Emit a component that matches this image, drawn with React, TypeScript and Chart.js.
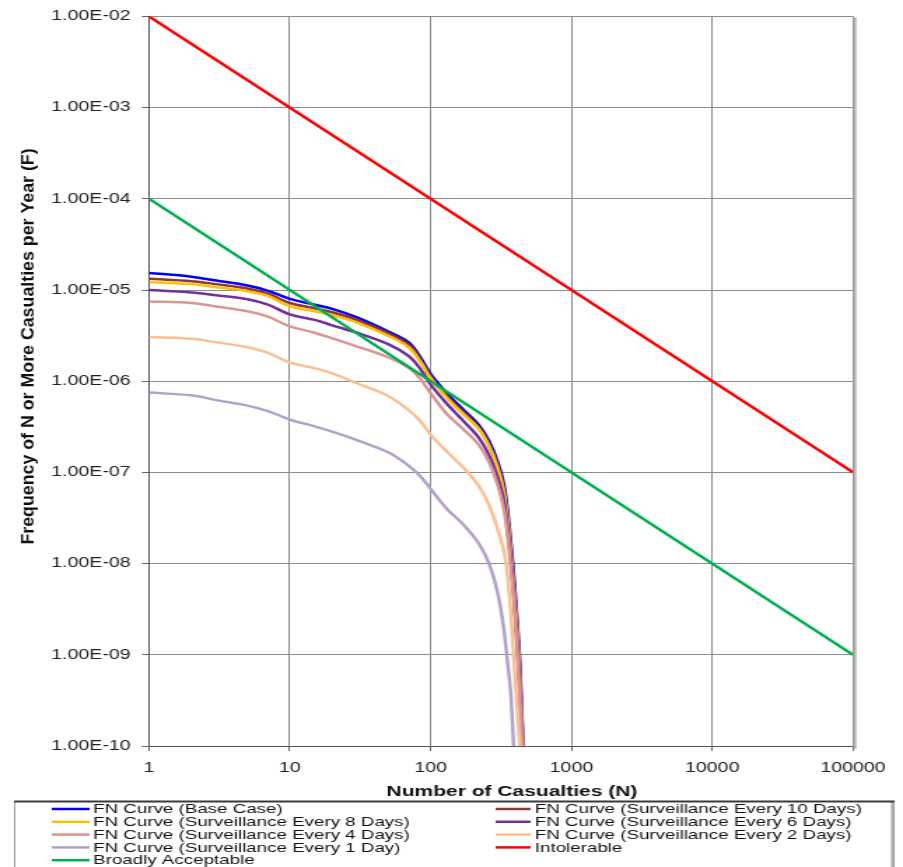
import React, { useEffect, useRef } from 'react';
import { Chart, registerables } from 'chart.js';

Chart.register(...registerables);

// Number of casualties at which each FN curve is sampled
const casualties = [1, 2, 3, 5, 7, 10, 15, 20, 30, 50, 70, 85, 100, 130, 170, 220, 260, 300, 330, 350, 370, 390, 410, 430, 450, 470];

// Frequency of N or more casualties per year for each case
const baseCase = [1.54e-5, 1.40e-5, 1.27e-5, 1.12e-5, 9.8e-6, 8.0e-6, 6.9e-6, 6.2e-6, 5.0e-6, 3.5e-6, 2.65e-6, 1.8e-6, 1.2e-6, 7.4e-7, 4.9e-7, 3.3e-7, 2.2e-7, 1.29e-7, 7.6e-8, 4.1e-8, 1.82e-8, 7.4e-9, 2.6e-9, 8.3e-10, 1.41e-10, 3.2e-11];
const every10Days = [1.33e-5, 1.25e-5, 1.16e-5, 1.04e-5, 9.1e-6, 7.2e-6, 6.3e-6, 5.7e-6, 4.7e-6, 3.35e-6, 2.5e-6, 1.7e-6, 1.12e-6, 6.9e-7, 4.6e-7, 3.1e-7, 2.0e-7, 1.15e-7, 6.5e-8, 3.4e-8, 1.48e-8, 5.8e-9, 2.1e-9, 6.0e-10, 1.17e-10, 2.5e-11];
const every8Days = [1.22e-5, 1.16e-5, 1.07e-5, 9.7e-6, 8.6e-6, 6.6e-6, 5.85e-6, 5.3e-6, 4.4e-6, 3.15e-6, 2.35e-6, 1.62e-6, 1.08e-6, 6.6e-7, 4.4e-7, 3.0e-7, 1.95e-7, 1.12e-7, 6.3e-8, 3.3e-8, 1.41e-8, 5.5e-9, 2.0e-9, 5.6e-10, 1.12e-10, 2.4e-11];
const every6Days = [1.0e-5, 9.4e-6, 8.75e-6, 7.9e-6, 6.9e-6, 5.4e-6, 4.7e-6, 4.1e-6, 3.4e-6, 2.55e-6, 1.88e-6, 1.35e-6, 9.2e-7, 5.7e-7, 3.7e-7, 2.4e-7, 1.55e-7, 8.6e-8, 5.0e-8, 2.6e-8, 1.15e-8, 4.5e-9, 1.45e-9, 4.1e-10, 9.1e-11, null];
const every4Days = [7.5e-6, 7.2e-6, 6.6e-6, 5.85e-6, 5.1e-6, 4.0e-6, 3.4e-6, 2.95e-6, 2.4e-6, 1.83e-6, 1.4e-6, 1.05e-6, 7.4e-7, 4.4e-7, 3.0e-7, 2.0e-7, 1.3e-7, 7.2e-8, 4.1e-8, 2.2e-8, 9.6e-9, 4.0e-9, 1.29e-9, 3.6e-10, 8.0e-11, null];
const every2Days = [3.06e-6, 2.92e-6, 2.67e-6, 2.36e-6, 2.05e-6, 1.6e-6, 1.39e-6, 1.22e-6, 9.5e-7, 6.9e-7, 4.8e-7, 3.6e-7, 2.6e-7, 1.7e-7, 1.14e-7, 7.1e-8, 4.4e-8, 2.35e-8, 1.41e-8, 7.9e-9, 3.1e-9, 8.7e-10, 2.8e-10, 1.02e-10, 4.0e-11, null];
const every1Day = [7.5e-7, 7.0e-7, 6.2e-7, 5.4e-7, 4.7e-7, 3.8e-7, 3.2e-7, 2.8e-7, 2.26e-7, 1.66e-7, 1.18e-7, 9.0e-8, 6.6e-8, 4.0e-8, 2.7e-8, 1.66e-8, 1.0e-8, 4.7e-9, 2.0e-9, 8.9e-10, 4.0e-10, 8.9e-11, null, null, null, null];

// Societal risk criterion lines
const criterionN = [1, 100000];
const intolerable = [1e-2, 1e-7];
const broadlyAcceptable = [1e-4, 1e-9];

// Axis ticks
const xTickValues = [1, 10, 100, 1000, 10000, 100000];
const xTickLabels = ['1', '10', '100', '1000', '10000', '100000'];
const yTickValues = [1e-10, 1e-9, 1e-8, 1e-7, 1e-6, 1e-5, 1e-4, 1e-3, 1e-2];
const yTickLabels = ['1.00E-10', '1.00E-09', '1.00E-08', '1.00E-07', '1.00E-06', '1.00E-05', '1.00E-04', '1.00E-03', '1.00E-02'];

const xTitle = 'Number of Casualties (N)';
const yTitle = 'Frequency of N or More Casualties per Year (F)';

const seriesLabels = [
  'FN Curve (Base Case)',
  'FN Curve (Surveillance Every 10 Days)',
  'FN Curve (Surveillance Every 8 Days)',
  'FN Curve (Surveillance Every 6 Days)',
  'FN Curve (Surveillance Every 4 Days)',
  'FN Curve (Surveillance Every 2 Days)',
  'FN Curve (Surveillance Every 1 Day)',
  'Intolerable',
  'Broadly Acceptable',
];

const seriesColors = ['#0000FF', '#943634', '#FFC000', '#7030A0', '#D99694', '#FAC090', '#B3A2C7', '#FF0000', '#00B050'];

const FONT = "'Liberation Sans', Arial, Helvetica, sans-serif";

// The drawing is laid out on a narrower bitmap and widened on screen.
const BITMAP_W = 645;
const BITMAP_H = 867;
const SCREEN_W = 903;
const WIDEN = SCREEN_W / BITMAP_W;

const toPoints = (xs: number[], ys: (number | null)[]) => xs.map((x, i) => ({ x, y: ys[i] }));

const fnSeries = [baseCase, every10Days, every8Days, every6Days, every4Days, every2Days, every1Day];

const frameShadowPlugin = {
  id: 'frameShadow',
  afterDraw(chart: any) {
    const { ctx, chartArea } = chart;
    ctx.save();
    ctx.strokeStyle = '#b8b8b8';
    ctx.lineWidth = 2;
    ctx.beginPath();
    ctx.moveTo(chartArea.right + 1.5, chartArea.top + 1);
    ctx.lineTo(chartArea.right + 1.5, chartArea.bottom + 3);
    ctx.stroke();
    ctx.restore();
  },
};

// Axis titles: the vertical one keeps its own proportions on the widened canvas.
const axisTitlePlugin = {
  id: 'axisTitles',
  afterDraw(chart: any) {
    const ctx = chart.ctx;
    ctx.save();
    ctx.fillStyle = '#111';
    ctx.textAlign = 'center';
    ctx.textBaseline = 'middle';
    ctx.font = `bold 15px ${FONT}`;
    ctx.fillText(xTitle, 365.7, 792);
    ctx.translate(20.4, 346.5);
    ctx.rotate(-Math.PI / 2);
    ctx.scale(1, 1 / WIDEN);
    ctx.font = `bold 17.8px ${FONT}`;
    ctx.fillText(yTitle, 0, 0);
    ctx.restore();
  },
};

const legendPlugin = {
  id: 'boxLegend',
  afterDraw(chart: any) {
    const ctx = chart.ctx;
    const left = 10;
    const top = 801.5;
    const right = 637;
    ctx.save();
    ctx.strokeStyle = '#9a9a9a';
    ctx.lineWidth = 1;
    ctx.beginPath();
    ctx.moveTo(left + 0.5, BITMAP_H + 2);
    ctx.lineTo(left + 0.5, top);
    ctx.moveTo(right, top);
    ctx.lineTo(right, BITMAP_H + 2);
    ctx.stroke();
    ctx.lineWidth = 1.5;
    ctx.beginPath();
    ctx.moveTo(right + 1.2, top + 1);
    ctx.lineTo(right + 1.2, BITMAP_H + 2);
    ctx.stroke();
    ctx.strokeStyle = '#3a3a3a';
    ctx.lineWidth = 2;
    ctx.beginPath();
    ctx.moveTo(left, top);
    ctx.lineTo(right + 2, top);
    ctx.stroke();

    ctx.font = `13.4px ${FONT}`;
    ctx.textBaseline = 'middle';
    ctx.textAlign = 'left';
    const colLine = [[37, 64], [354, 379]];
    const colText = [66.5, 382];
    seriesLabels.forEach((label, i) => {
      const col = i % 2;
      const row = Math.floor(i / 2);
      const y = 809 + row * 12.8;
      ctx.strokeStyle = seriesColors[i];
      ctx.lineWidth = 2.5;
      ctx.beginPath();
      ctx.moveTo(colLine[col][0], y);
      ctx.lineTo(colLine[col][1], y);
      ctx.stroke();
      ctx.fillStyle = '#111';
      ctx.fillText(label, colText[col], y + 0.5);
    });
    ctx.restore();
  },
};

export default function App() {
  const canvasRef = useRef<HTMLCanvasElement | null>(null);

  useEffect(() => {
    document.body.style.margin = '0';
    const canvas = canvasRef.current;
    if (!canvas) return;

    const datasets: any[] = fnSeries.map((ys, i) => ({
      label: seriesLabels[i],
      data: toPoints(casualties, ys),
      borderColor: seriesColors[i],
      backgroundColor: seriesColors[i],
      borderWidth: 2.5,
      pointRadius: 0,
      tension: 0.35,
      spanGaps: false,
      order: 20 - i,
    }));
    datasets.push({
      label: seriesLabels[7],
      data: toPoints(criterionN, intolerable),
      borderColor: seriesColors[7],
      backgroundColor: seriesColors[7],
      borderWidth: 2.5,
      pointRadius: 0,
      order: 13,
    });
    datasets.push({
      label: seriesLabels[8],
      data: toPoints(criterionN, broadlyAcceptable),
      borderColor: seriesColors[8],
      backgroundColor: seriesColors[8],
      borderWidth: 2.5,
      pointRadius: 0,
      order: 12,
    });

    const chart = new Chart(canvas, {
      type: 'line',
      data: { datasets },
      options: {
        animation: false,
        responsive: false,
        devicePixelRatio: 1,
        layout: { padding: { left: 7, right: 35.7, top: 16, bottom: 62 } },
        plugins: { legend: { display: false }, tooltip: { enabled: false } },
        scales: {
          x: {
            type: 'logarithmic',
            min: 1,
            max: 100000,
            afterBuildTicks: (scale: any) => {
              scale.ticks = xTickValues.map((value) => ({ value }));
            },
            afterFit: (scale: any) => {
              scale.height = 59;
            },
            grid: { color: '#8c8c8c', lineWidth: 1, tickLength: 5, tickColor: '#666' },
            border: { color: '#555', width: 1 },
            ticks: {
              autoSkip: false,
              maxRotation: 0,
              padding: 9,
              color: '#222',
              font: { family: FONT, size: 14 },
              callback: (value: any) => xTickLabels[xTickValues.indexOf(Number(value))] ?? '',
            },
          },
          y: {
            type: 'logarithmic',
            min: 1e-10,
            max: 1e-2,
            afterBuildTicks: (scale: any) => {
              scale.ticks = yTickValues.map((value) => ({ value }));
            },
            afterFit: (scale: any) => {
              scale.width = 99.4;
            },
            grid: { color: '#8c8c8c', lineWidth: 1, tickLength: 5, tickColor: '#666' },
            border: { color: '#555', width: 1 },
            ticks: {
              autoSkip: false,
              padding: 8,
              color: '#222',
              font: { family: FONT, size: 14 },
              callback: (value: any) => {
                const idx = yTickValues.findIndex((v) => Math.abs(Math.log10(v) - Math.log10(Number(value))) < 1e-6);
                return idx >= 0 ? yTickLabels[idx] : '';
              },
            },
          },
        },
      },
      plugins: [frameShadowPlugin, axisTitlePlugin, legendPlugin],
    });

    return () => chart.destroy();
  }, []);

  return (
    <div style={{ width: SCREEN_W, height: BITMAP_H, overflow: 'hidden', background: '#fff' }}>
      <canvas
        ref={canvasRef}
        width={BITMAP_W}
        height={BITMAP_H}
        style={{ width: `${SCREEN_W}px`, height: `${BITMAP_H}px`, display: 'block' }}
      />
    </div>
  );
}
